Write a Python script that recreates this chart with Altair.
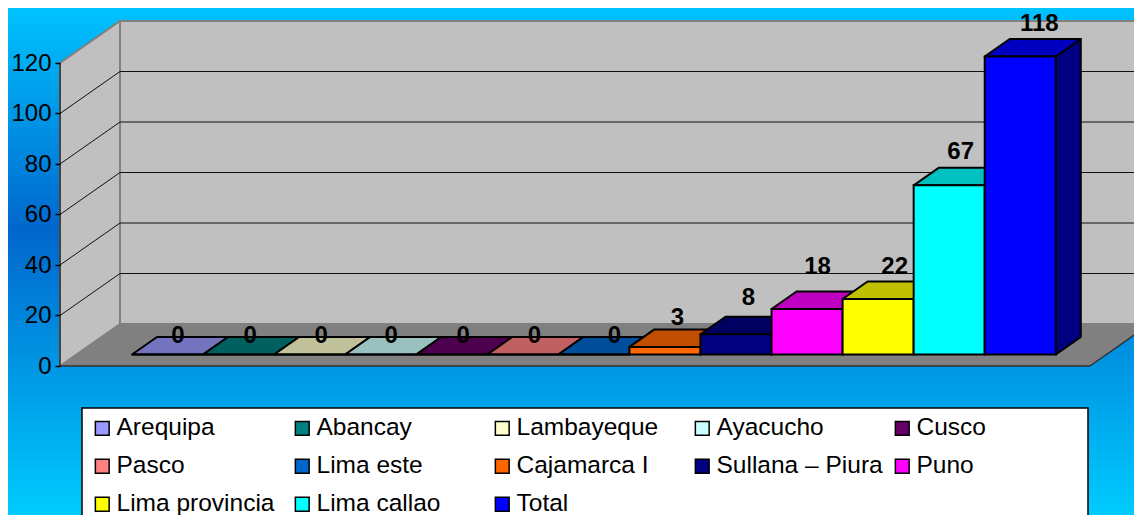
import altair as alt
import pandas as pd

# ---- chart values ----
categories = ["Arequipa", "Abancay", "Lambayeque", "Ayacucho", "Cusco", "Pasco", "Lima este",
              "Cajamarca I", "Sullana – Piura", "Puno", "Lima provincia", "Lima callao", "Total"]
values = [0, 0, 0, 0, 0, 0, 0, 3, 8, 18, 22, 67, 118]
ticks = [0, 20, 40, 60, 80, 100, 120]

front_colors = ["#9999FF", "#008080", "#FFFFCC", "#CCFFFF", "#660066", "#FF8080", "#0066CC",
                "#FF6600", "#000080", "#FF00FF", "#FFFF00", "#00FFFF", "#0000FF"]
top_colors = ["#7373C0", "#006060", "#C0C09A", "#9AC0C0", "#4D004D", "#C06060", "#004D9A",
              "#C04D00", "#000060", "#C000C0", "#C0C000", "#00C0C0", "#0000C0"]
side_colors = ["#4D4D80", "#004040", "#808066", "#668080", "#330033", "#804040", "#003366",
               "#803300", "#000040", "#800080", "#808000", "#008080", "#000080"]

# data-label placement nudges (pixels on the picture)
label_nudge_x = [-2, -1, -1, -2, -1, -1, 8, 0, 0, -2, 4, -1, 6.5]
label_lift = [1, 1, 1, 1, 1, 1, 1, 11.4, 18.8, 24.5, 14.5, 15.8, 15]

# ---- frame geometry: 1 x unit = one category, 1 y unit = one count ----
W, H = 1126, 507
PX_X, PX_Y = 71.06, 2.525
X0_PX = 132


def ux(px):
    return (px - X0_PX) / PX_X


def uy(px):
    return (366 - px) / PX_Y


X_DOMAIN = [ux(8), ux(8 + W)]
Y_DOMAIN = [uy(8 + H), uy(8)]
AXIS_X = ux(60)
RIGHT_X = ux(1090)
WALL_DX = 60 / PX_X
WALL_DY = 42 / PX_Y
BAR_DX = 25 / PX_X
BAR_DY = 17.5 / PX_Y
BAR_LIFT = 11.5 / PX_Y
y_axis = alt.Axis(values=ticks, title=None, grid=False, domain=False, offset=-52, zindex=1,
                  tickColor="#000000", tickSize=5, tickWidth=1.5,
                  labelFont="Liberation Sans", labelFontSize=24, labelColor="#000000",
                  labelPadding=4, labelOverlap=False, format="d")
x_enc = alt.X("x:Q", axis=None, scale=alt.Scale(domain=X_DOMAIN, nice=False, zero=False))
y_enc = alt.Y("y:Q", axis=y_axis, scale=alt.Scale(domain=Y_DOMAIN, nice=False, zero=False))

# ---- background ----
bg = alt.Chart(pd.DataFrame({"a": [0]})).mark_rect(
    color=alt.LinearGradient(
        gradient="linear", x1=0, x2=0, y1=0, y2=1,
        stops=[alt.GradientStop(offset=0, color="#00C3FF"),
               alt.GradientStop(offset=0.44, color="#0066CC"),
               alt.GradientStop(offset=1, color="#00CCFF")])
).encode(x=alt.value(0), x2=alt.value(W), y=alt.value(0), y2=alt.value(H))


def area_rows(face, fill, pts):
    return [{"face": face, "fill": fill, "x": a, "y": b, "y2": c} for a, b, c in pts]


# ---- walls and floor ----
TOP = 120
wall_rows = []
wall_rows += area_rows("left", "#C0C0C0", [(AXIS_X, 0, TOP), (AXIS_X + WALL_DX, WALL_DY, TOP + WALL_DY)])
wall_rows += area_rows("back", "#C0C0C0", [(AXIS_X + WALL_DX, WALL_DY, TOP + WALL_DY), (X_DOMAIN[1] + 1, WALL_DY, TOP + WALL_DY)])
floor_rows = area_rows("floor", "#808080", [
    (AXIS_X, 0, 0), (AXIS_X + WALL_DX, 0, WALL_DY),
    (RIGHT_X, 0, WALL_DY), (RIGHT_X + WALL_DX, WALL_DY, WALL_DY)])

walls = alt.Chart(pd.DataFrame(wall_rows)).mark_area(
    stroke="#808080", strokeWidth=2, orient="vertical", interpolate="linear"
).encode(x=x_enc, y=y_enc, y2="y2:Q", fill=alt.Fill("fill:N", scale=None), detail="face:N")
floor = alt.Chart(pd.DataFrame(floor_rows)).mark_area(orient="vertical", interpolate="linear").encode(
    x=x_enc, y=y_enc, y2="y2:Q", fill=alt.Fill("fill:N", scale=None), detail="face:N")

# gridlines on the side and back wall
grid_rows = []
for t in ticks[1:-1]:
    grid_rows += [{"t": t, "x": AXIS_X, "y": t, "o": 0},
                  {"t": t, "x": AXIS_X + WALL_DX, "y": t + WALL_DY, "o": 1},
                  {"t": t, "x": X_DOMAIN[1] + 1, "y": t + WALL_DY, "o": 2}]
grid = alt.Chart(pd.DataFrame(grid_rows)).mark_line(
    color="#111111", strokeWidth=1).encode(x=x_enc, y=y_enc, detail="t:N", order="o:Q")

# axis line and floor edges
edge_rows = [{"e": "axis", "x": AXIS_X, "y": 0, "o": 0}, {"e": "axis", "x": AXIS_X, "y": TOP, "o": 1},
             {"e": "front", "x": AXIS_X, "y": 0, "o": 0}, {"e": "front", "x": RIGHT_X, "y": 0, "o": 1},
             {"e": "right", "x": RIGHT_X, "y": 0, "o": 0}, {"e": "right", "x": RIGHT_X + WALL_DX, "y": WALL_DY, "o": 1}]
edges = alt.Chart(pd.DataFrame(edge_rows)).mark_line(color="#303030", strokeWidth=1.5).encode(
    x=x_enc, y=y_enc, detail="e:N", order="o:Q")

# ---- bars: side and top faces first, front faces over them ----
face_rows = []
front_rows = []
label_rows = []
for i, (name, v) in enumerate(zip(categories, values)):
    base = BAR_LIFT
    top = v + BAR_LIFT
    left, right = float(i), float(i + 1)
    if v > 0:
        face_rows += area_rows(f"{i:02d}side", side_colors[i], [
            (right, base, top), (right + BAR_DX, base + BAR_DY, top + BAR_DY)])
    face_rows += area_rows(f"{i:02d}top", top_colors[i], [
        (left, top, top), (left + BAR_DX, top, top + BAR_DY),
        (right, top, top + BAR_DY), (right + BAR_DX, top + BAR_DY, top + BAR_DY)])
    front_rows.append({"name": name, "x": left, "x2": right, "y": base, "y2": top})
    label_rows.append({"label": str(v),
                       "x": i + 0.5 + BAR_DX / 2 + label_nudge_x[i] / PX_X,
                       "y": top + BAR_DY + label_lift[i] / PX_Y})

faces = alt.Chart(pd.DataFrame(face_rows)).mark_area(
    stroke="#000000", strokeWidth=2, strokeJoin="round", orient="vertical", interpolate="linear"
).encode(x=x_enc, y=y_enc, y2="y2:Q", fill=alt.Fill("fill:N", scale=None), detail="face:N")

fronts = alt.Chart(pd.DataFrame(front_rows)).mark_rect(stroke="#000000", strokeWidth=2, opacity=1).encode(
    x=x_enc, x2="x2:Q", y=y_enc, y2="y2:Q",
    color=alt.Color("name:N", sort=categories,
                    scale=alt.Scale(domain=categories, range=front_colors),
                    legend=alt.Legend(title=None, orient="none", legendX=82, legendY=408, columns=5,
                                      direction="horizontal", gridAlign="all", columnPadding=7, rowPadding=13,
                                      symbolType="square", symbolSize=190, symbolStrokeColor="#000000",
                                      symbolStrokeWidth=1.5, symbolOpacity=1,
                                      labelFont="Liberation Sans", labelFontSize=24.5, labelColor="#000000",
                                      labelOffset=2, labelLimit=400, padding=0)))

labels = alt.Chart(pd.DataFrame(label_rows)).mark_text(
    font="Liberation Sans", fontSize=24, fontWeight="bold", color="#000000", baseline="middle", align="center"
).encode(x=x_enc, y=y_enc, text="label:N")

# ---- legend box ----
box_rows = [{"x": ux(82), "x2": ux(1088), "y": uy(408), "y2": Y_DOMAIN[0] - 10}]
box = alt.Chart(pd.DataFrame(box_rows)).mark_rect(fill="#FFFFFF", stroke="#000000", strokeWidth=1.5).encode(
    x=x_enc, x2="x2:Q", y=y_enc, y2="y2:Q")

chart = alt.layer(bg, box, walls, floor, edges, grid, faces, fronts, labels).properties(
    width=W, height=H, padding=0, autosize=alt.AutoSizeParams(type="none"),
    background="#00A0E8"
).configure_view(stroke=None)

chart.save("out.html", embed_options={"renderer": "svg", "actions": False})
